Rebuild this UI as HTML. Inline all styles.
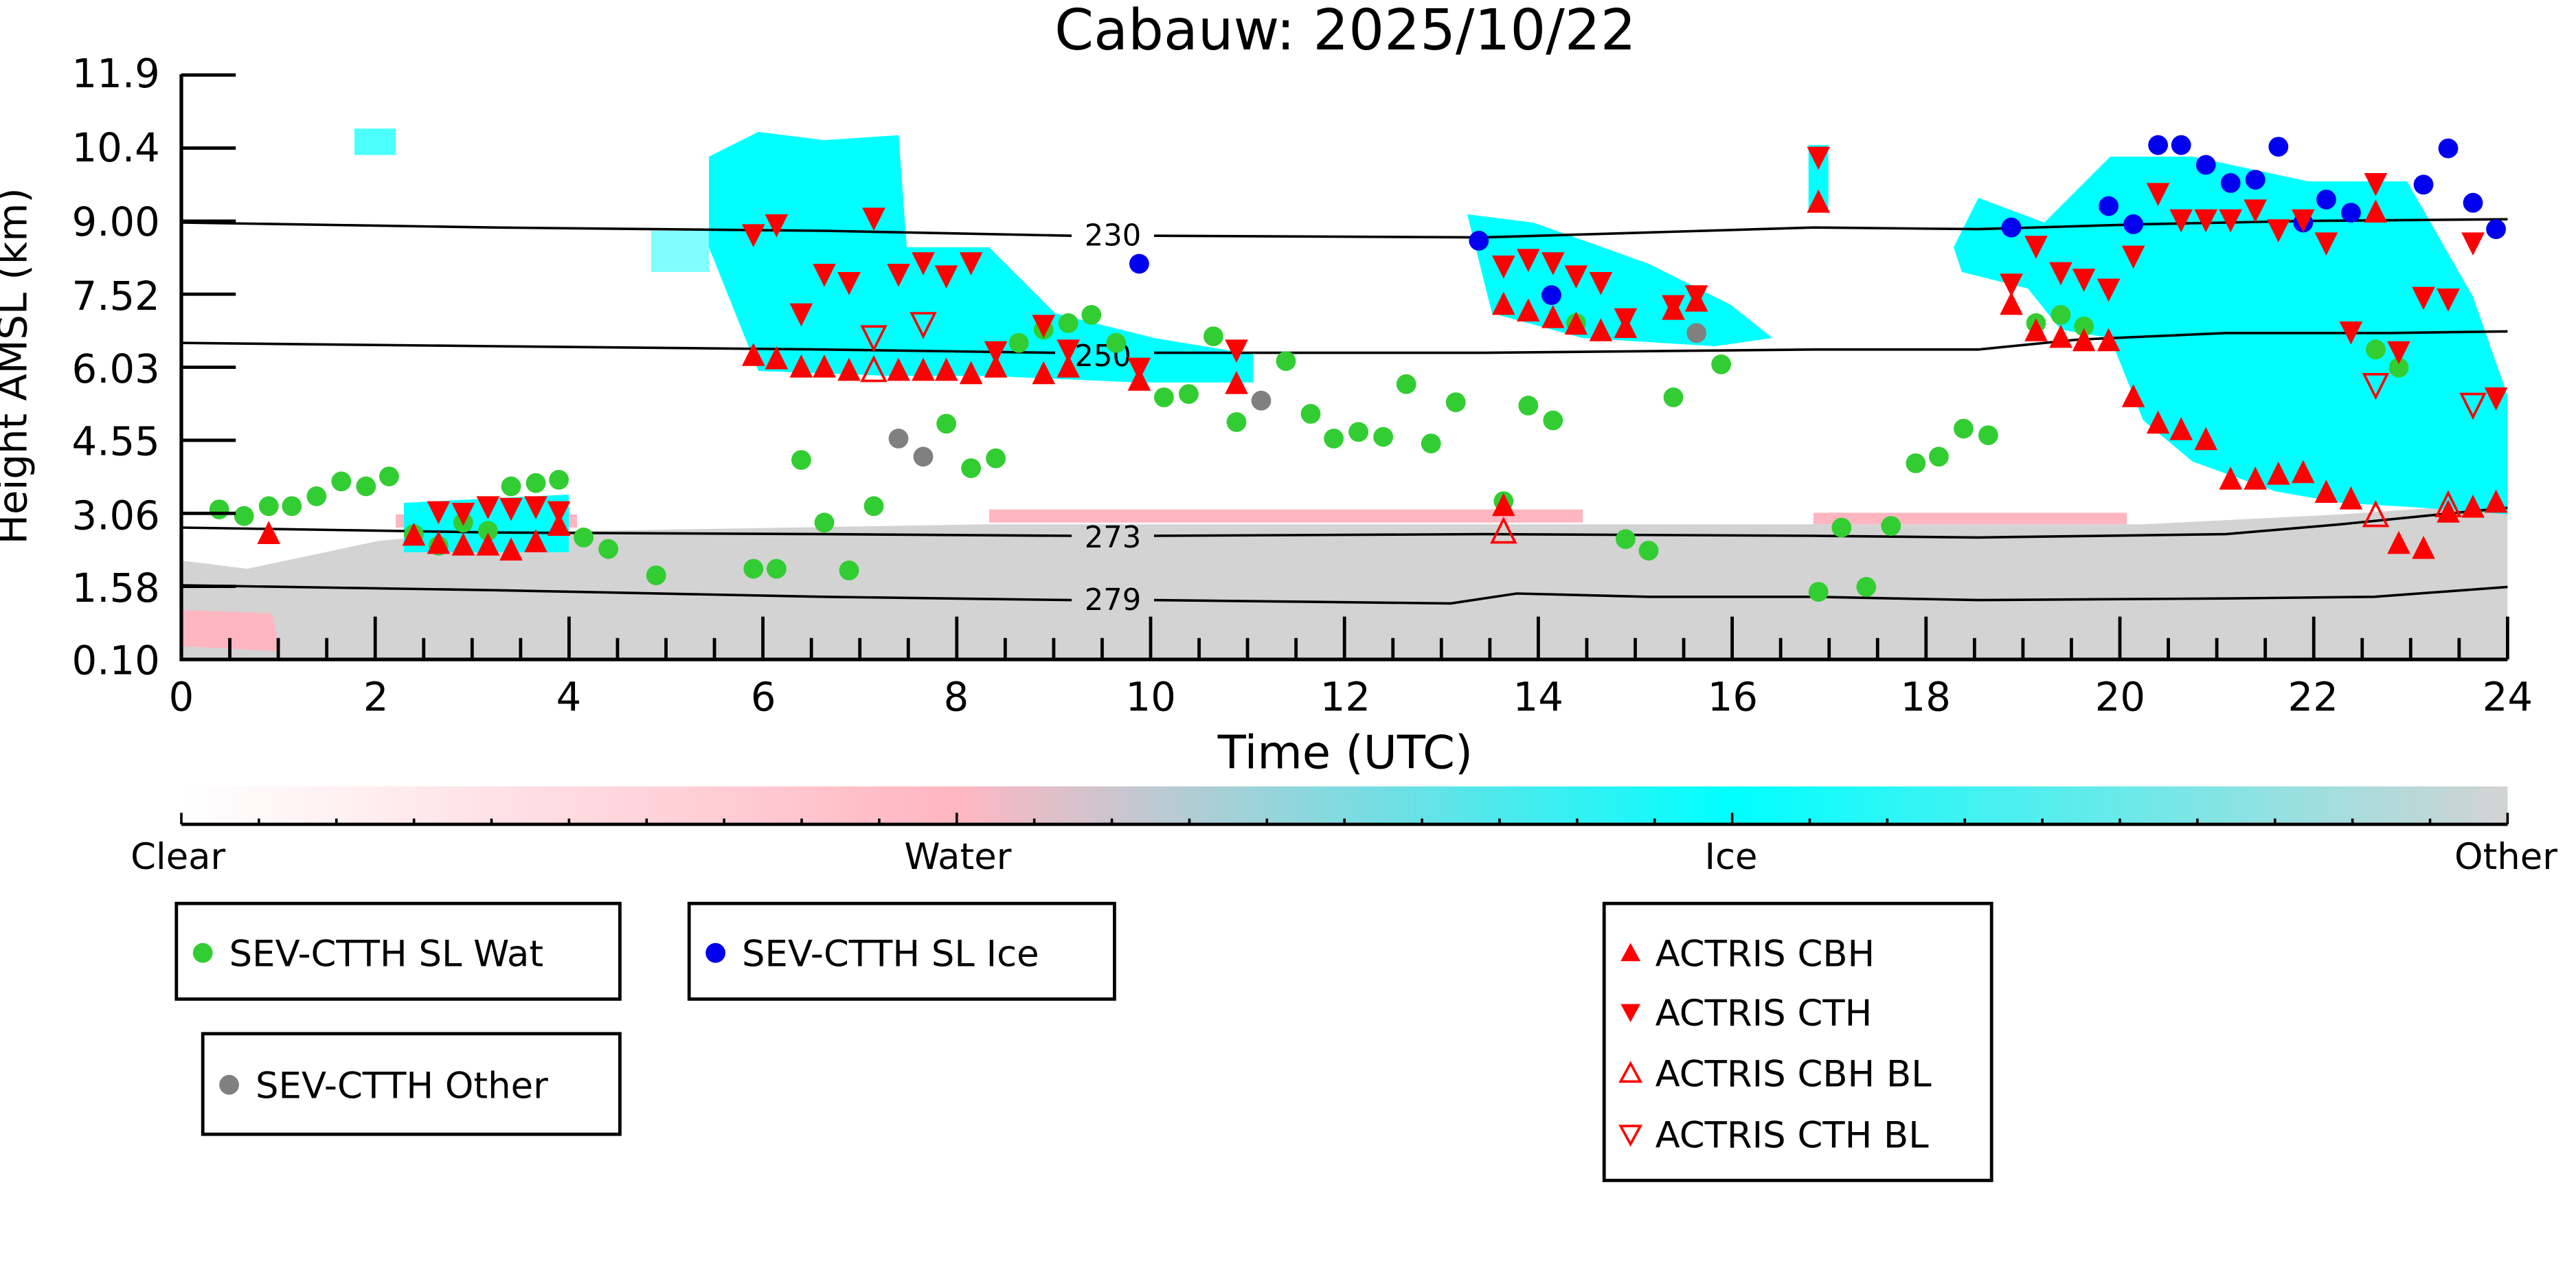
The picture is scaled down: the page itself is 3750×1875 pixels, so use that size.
<!DOCTYPE html>
<html><head><meta charset="utf-8"><style>html,body{margin:0;padding:0;background:#fff}svg{display:block}</style></head>
<body>
<svg width="3750" height="1875" viewBox="0 0 1562.5 781.25" xmlns="http://www.w3.org/2000/svg" font-family="'DejaVu Sans','Liberation Sans',sans-serif">
<defs>
<linearGradient id="cb" x1="0" x2="1" y1="0" y2="0">
<stop offset="0" stop-color="#ffffff"/><stop offset="0.333" stop-color="#ffb6c1"/><stop offset="0.667" stop-color="#00ffff"/><stop offset="1" stop-color="#d3d3d3"/>
</linearGradient>
<clipPath id="pa"><rect x="110" y="45" width="1411" height="355"/></clipPath>
</defs>
<rect width="1562.5" height="781.25" fill="#fff"/>
<text x="816" y="30" font-size="34" text-anchor="middle">Cabauw: 2025/10/22</text>
<g clip-path="url(#pa)">
<path d="M110,340 L150,345 L230,328 L300,322 L360,322 L600,318 L960,318 L1100,318 L1300,318 L1420,312 L1521,305 L1521,400 L110,400 Z" fill="#d3d3d3"/>
<path d="M110,370 L165,372 L170,395 L110,392 Z" fill="#ffb6c1"/>
<rect x="600" y="309" width="360" height="8" fill="#ffb6c1"/>
<rect x="1100" y="311" width="190" height="7" fill="#ffb6c1"/>
<rect x="240" y="312" width="110" height="8" fill="#ffb6c1"/>
<path d="M430,95 L460,80 L500,85 L545,82 L550,150 L600,150 L640,190 L700,205 L760,215 L760,232 L690,232 L600,228 L540,228 L460,225 L450,200 L430,150 Z" fill="#00ffff"/>
<rect x="395" y="140" width="35" height="25" fill="#00ffff" opacity="0.5"/>
<rect x="215" y="78" width="25" height="16" fill="#00ffff" opacity="0.7"/>
<path d="M245,305 L345,300 L345,335 L245,335 Z" fill="#00ffff"/>
<path d="M890,130 L930,135 L1000,160 L1050,185 L1075,205 L1040,210 L960,205 L905,190 Z" fill="#00ffff"/>
<rect x="1097" y="88" width="12" height="40" fill="#00ffff"/>
<path d="M1185,150 L1200,120 L1240,135 L1280,95 L1330,95 L1400,110 L1460,110 L1500,180 L1521,240 L1521,312 L1470,308 L1420,305 L1380,298 L1330,280 L1300,255 L1280,205 L1250,200 L1230,175 L1190,165 Z" fill="#00ffff"/>
</g>
<g fill="none" stroke="#000" stroke-width="1.5">
<path d="M110,135 L300,138 L500,140 L650,143 M700,143 L900,144 L1000,141 L1100,138 L1200,139 L1300,136 L1400,134 L1521,133"/>
<path d="M110,208 L300,210 L500,212 L640,214 M700,214 L900,214 L1100,212 L1200,212 L1260,206 L1350,202 L1450,202 L1521,201"/>
<path d="M110,320 L300,323 L500,324 L650,325 M700,325 L900,324 L1100,325 L1200,326 L1350,324 L1420,318 L1480,312 L1521,308"/>
<path d="M110,355 L300,358 L500,362 L650,364 M700,364 L880,366 L920,360 L1000,362 L1100,362 L1200,364 L1350,363 L1440,362 L1521,356"/>
</g>
<g font-size="18" text-anchor="middle">
<text x="675" y="149">230</text><text x="669" y="222">250</text><text x="675" y="332">273</text><text x="675" y="370">279</text>
</g>
<g fill="#32cd32">
<circle cx="133" cy="309" r="6"/><circle cx="148" cy="313" r="6"/><circle cx="163" cy="307" r="6"/><circle cx="177" cy="307" r="6"/><circle cx="192" cy="301" r="6"/><circle cx="207" cy="292" r="6"/><circle cx="222" cy="295" r="6"/><circle cx="236" cy="289" r="6"/><circle cx="251" cy="324" r="6"/><circle cx="266" cy="331" r="6"/><circle cx="281" cy="317" r="6"/><circle cx="296" cy="322" r="6"/><circle cx="310" cy="295" r="6"/><circle cx="325" cy="293" r="6"/><circle cx="339" cy="291" r="6"/><circle cx="354" cy="326" r="6"/><circle cx="369" cy="333" r="6"/><circle cx="398" cy="349" r="6"/><circle cx="457" cy="345" r="6"/><circle cx="471" cy="345" r="6"/><circle cx="486" cy="279" r="6"/><circle cx="500" cy="317" r="6"/><circle cx="515" cy="346" r="6"/><circle cx="530" cy="307" r="6"/><circle cx="574" cy="257" r="6"/><circle cx="589" cy="284" r="6"/><circle cx="604" cy="278" r="6"/><circle cx="618" cy="208" r="6"/><circle cx="633" cy="200" r="6"/><circle cx="648" cy="196" r="6"/><circle cx="662" cy="191" r="6"/><circle cx="677" cy="208" r="6"/><circle cx="706" cy="241" r="6"/><circle cx="721" cy="239" r="6"/><circle cx="736" cy="204" r="6"/><circle cx="750" cy="256" r="6"/><circle cx="780" cy="219" r="6"/><circle cx="795" cy="251" r="6"/><circle cx="809" cy="266" r="6"/><circle cx="824" cy="262" r="6"/><circle cx="839" cy="265" r="6"/><circle cx="853" cy="233" r="6"/><circle cx="868" cy="269" r="6"/><circle cx="883" cy="244" r="6"/><circle cx="912" cy="304" r="6"/><circle cx="927" cy="246" r="6"/><circle cx="942" cy="255" r="6"/><circle cx="956" cy="196" r="6"/><circle cx="986" cy="327" r="6"/><circle cx="1000" cy="334" r="6"/><circle cx="1015" cy="241" r="6"/><circle cx="1044" cy="221" r="6"/><circle cx="1103" cy="359" r="6"/><circle cx="1117" cy="320" r="6"/><circle cx="1132" cy="356" r="6"/><circle cx="1147" cy="319" r="6"/><circle cx="1162" cy="281" r="6"/><circle cx="1176" cy="277" r="6"/><circle cx="1191" cy="260" r="6"/><circle cx="1206" cy="264" r="6"/><circle cx="1235" cy="196" r="6"/><circle cx="1250" cy="191" r="6"/><circle cx="1264" cy="198" r="6"/><circle cx="1441" cy="212" r="6"/><circle cx="1455" cy="223" r="6"/>
</g>
<g fill="#808080"><circle cx="545" cy="266" r="6"/><circle cx="560" cy="277" r="6"/><circle cx="765" cy="243" r="6"/><circle cx="1029" cy="202" r="6"/></g>
<g fill="#0000ee"><circle cx="691" cy="160" r="6"/><circle cx="897" cy="146" r="6"/><circle cx="941" cy="179" r="6"/><circle cx="1220" cy="138" r="6"/><circle cx="1279" cy="125" r="6"/><circle cx="1294" cy="136" r="6"/><circle cx="1309" cy="88" r="6"/><circle cx="1323" cy="88" r="6"/><circle cx="1338" cy="100" r="6"/><circle cx="1353" cy="111" r="6"/><circle cx="1368" cy="109" r="6"/><circle cx="1382" cy="89" r="6"/><circle cx="1397" cy="135" r="6"/><circle cx="1411" cy="121" r="6"/><circle cx="1426" cy="129" r="6"/><circle cx="1470" cy="112" r="6"/><circle cx="1485" cy="90" r="6"/><circle cx="1500" cy="123" r="6"/><circle cx="1514" cy="139" r="6"/></g>
<g fill="#ff0000" id="up"></g>
<g fill="#ff0000" id="dn"></g>
<g fill="none" stroke="#ff0000" stroke-width="1.5" id="ou"></g>
<g fill="none" stroke="#ff0000" stroke-width="1.5" id="od"></g>
<g stroke="#000" stroke-width="2.2" fill="none">
<line x1="110" y1="45" x2="110" y2="401"/><line x1="109" y1="400" x2="1521" y2="400"/>
</g>
<g stroke="#000" stroke-width="2" id="ticks"></g>
<g font-size="24" text-anchor="end">
<text x="97" y="53">11.9</text><text x="97" y="98">10.4</text><text x="97" y="143">9.00</text><text x="97" y="188">7.52</text><text x="97" y="232">6.03</text><text x="97" y="276">4.55</text><text x="97" y="321">3.06</text><text x="97" y="365">1.58</text><text x="97" y="409">0.10</text>
</g>
<g font-size="24" text-anchor="middle">
<text x="110" y="431">0</text><text x="228" y="431">2</text><text x="345" y="431">4</text><text x="463" y="431">6</text><text x="580" y="431">8</text><text x="698" y="431">10</text><text x="816" y="431">12</text><text x="933" y="431">14</text><text x="1051" y="431">16</text><text x="1168" y="431">18</text><text x="1286" y="431">20</text><text x="1403" y="431">22</text><text x="1521" y="431">24</text>
<text x="816" y="466" font-size="28">Time (UTC)</text>
<text transform="translate(16,222) rotate(-90)" font-size="24">Height AMSL (km)</text>
</g>
<rect x="110" y="477" width="1411" height="23" fill="url(#cb)"/>
<g stroke="#000" stroke-width="1.5" id="cbt"></g>
<line x1="110" y1="500" x2="1521" y2="500" stroke="#000" stroke-width="2"/>
<g font-size="22" text-anchor="middle">
<text x="108" y="527">Clear</text><text x="581" y="527">Water</text><text x="1050" y="527">Ice</text><text x="1520" y="527">Other</text>
</g>
<g fill="none" stroke="#000" stroke-width="2">
<rect x="107" y="548" width="269" height="58"/><rect x="418" y="548" width="258" height="58"/><rect x="123" y="627" width="253" height="61"/><rect x="973" y="548" width="235" height="168"/>
</g>
<g font-size="22">
<circle cx="123" cy="578" r="6" fill="#32cd32"/><text x="139" y="586">SEV-CTTH SL Wat</text>
<circle cx="434" cy="578" r="6" fill="#0000ee"/><text x="450" y="586">SEV-CTTH SL Ice</text>
<circle cx="139" cy="658" r="6" fill="#808080"/><text x="155" y="666">SEV-CTTH Other</text>
<polygon points="989,572 995,583 983,583" fill="#f00"/><text x="1004" y="586">ACTRIS CBH</text>
<polygon points="989,620 995,609 983,609" fill="#f00"/><text x="1004" y="622">ACTRIS CTH</text>
<polygon points="989,645 995,656 983,656" fill="none" stroke="#f00" stroke-width="1.5"/><text x="1004" y="659">ACTRIS CBH BL</text>
<polygon points="989,694 995,683 983,683" fill="none" stroke="#f00" stroke-width="1.5"/><text x="1004" y="696">ACTRIS CTH BL</text>
</g>
</svg>
<script>
var NS="http://www.w3.org/2000/svg";
function tri(g,x,y,up){var p=document.createElementNS(NS,"polygon");var s=7;p.setAttribute("points",up?[x,y-s,x+s,y+s,x-s,y+s].join(" "):[x,y+s,x+s,y-s,x-s,y-s].join(" "));document.getElementById(g).appendChild(p);}
var U=[[163,323],[251,324],[266,329],[281,330],[296,330],[310,333],[325,328],[339,318],[457,215],[471,217],[486,222],[500,222],[515,224],[545,224],[560,224],[574,224],[589,226],[604,222],[633,226],[648,222],[691,230],[750,232],[912,184],[927,188],[942,192],[956,196],[971,200],[986,198],[1015,187],[1029,182],[1103,122],[1220,184],[1235,200],[1250,204],[1264,206],[1279,206],[1294,240],[1309,256],[1323,260],[1338,266],[1353,290],[1368,290],[1382,287],[1397,286],[1411,298],[1426,302],[1441,128],[1455,329],[1470,332],[1485,310],[1500,307],[1514,304],[912,306]];
var D=[[266,311],[281,312],[296,308],[310,309],[325,308],[339,311],[457,143],[471,137],[486,191],[500,167],[515,172],[530,133],[545,167],[560,160],[574,168],[589,160],[604,214],[633,198],[648,213],[691,224],[750,213],[912,162],[927,158],[942,160],[956,168],[971,172],[986,194],[1015,186],[1029,180],[1103,96],[1220,173],[1235,150],[1250,166],[1264,170],[1279,176],[1294,156],[1309,118],[1323,134],[1338,134],[1353,134],[1368,128],[1382,140],[1397,134],[1411,148],[1426,202],[1441,112],[1455,214],[1470,181],[1485,182],[1500,148],[1514,242]];
U.forEach(function(a){tri("up",a[0],a[1],1)});D.forEach(function(a){tri("dn",a[0],a[1],0)});
[[530,224],[912,322],[1441,312],[1485,306]].forEach(function(a){tri("ou",a[0],a[1],1)});
[[530,205],[560,197],[1441,234],[1500,246]].forEach(function(a){tri("od",a[0],a[1],0)});
var t=document.getElementById("ticks");
function ln(g,x1,y1,x2,y2){var l=document.createElementNS(NS,"line");l.setAttribute("x1",x1);l.setAttribute("y1",y1);l.setAttribute("x2",x2);l.setAttribute("y2",y2);g.appendChild(l);}
for(var h=0;h<=48;h++){var x=110+h*1411/48;var L=(h%4==0)?26:13;ln(t,x,400,x,400-L);}
for(var i=0;i<=8;i++){var y=45.5+i*354.5/8;ln(t,110,y,143,y);}
var c=document.getElementById("cbt");
for(var k=0;k<=30;k++){var x=110+k*1411/30;ln(c,x,500,x,(k%10==0)?493:496.5);}
</script>
</body></html>
